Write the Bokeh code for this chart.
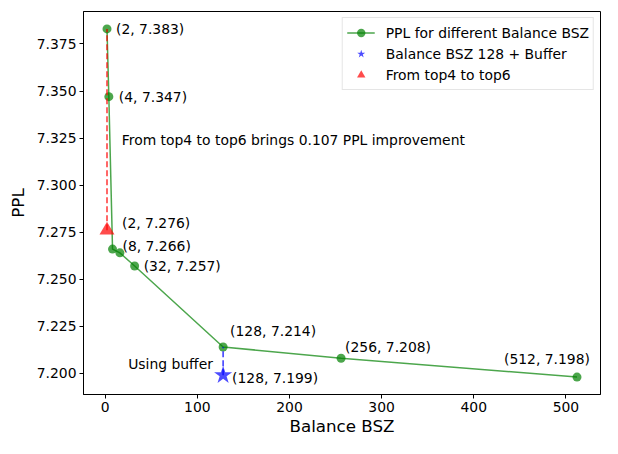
from bokeh.plotting import figure
from bokeh.models import ColumnDataSource, FixedTicker, PrintfTickFormatter, Range1d, Label
from bokeh.core.properties import value
from bokeh.embed import file_html
from bokeh.resources import INLINE

# ---- data ----
bsz = [2, 4, 8, 16, 32, 128, 256, 512]
ppl = [7.383, 7.347, 7.266, 7.264, 7.257, 7.214, 7.208, 7.198]
buffer_bsz = [128]
buffer_ppl = [7.199]
top6_bsz = [2]
top6_ppl = [7.276]
x_ticks = [0, 100, 200, 300, 400, 500]
y_ticks = [7.200, 7.225, 7.250, 7.275, 7.300, 7.325, 7.350, 7.375]
series_name = "PPL for different Balance BSZ"
buffer_name = "Balance BSZ 128 + Buffer"
top_name = "From top4 to top6"
note_text = "From top4 to top6 brings 0.107 PPL improvement"
buffer_text = "Using buffer"

FONT = "DejaVu Sans"
FS = "13.9px"

p = figure(width=602, height=438, output_backend="svg", toolbar_location=None,
           x_range=Range1d(-23.5, 537.5), y_range=Range1d(7.18875, 7.39225),
           min_border_left=83, min_border_right=2, min_border_top=11, min_border_bottom=41)
p.background_fill_color = "white"
p.border_fill_color = "white"
p.outline_line_color = "black"
p.outline_line_width = 1
p.grid.visible = False

for ax in (p.xaxis[0], p.yaxis[0]):
    ax.major_tick_out = 4
    ax.major_tick_in = 0
    ax.minor_tick_line_color = None
    ax.axis_line_color = "black"
    ax.major_tick_line_color = "black"
    ax.major_label_text_font = FONT
    ax.major_label_text_font_size = FS
    ax.major_label_text_color = "black"
    ax.axis_label_text_font = FONT
    ax.axis_label_text_font_size = "16.7px"
    ax.axis_label_text_font_style = "normal"
    ax.axis_label_text_color = "black"

p.xaxis.ticker = FixedTicker(ticks=x_ticks)
p.yaxis.ticker = FixedTicker(ticks=y_ticks)
p.yaxis.formatter = PrintfTickFormatter(format="%.3f")
p.xaxis.axis_label = "Balance BSZ"
p.yaxis.axis_label = "PPL"
p.xaxis.major_label_standoff = 3
p.xaxis.axis_label_standoff = 1
p.yaxis.major_label_standoff = 3
p.yaxis.axis_label_standoff = 6

# main series
p.line(bsz, ppl, line_color="green", line_alpha=0.7, line_width=1.5, legend_label=series_name)
p.scatter(bsz, ppl, marker="circle", size=9, fill_color="green", fill_alpha=0.7,
          line_color=None, legend_label=series_name)

# dashed connectors
p.line([top6_bsz[0], bsz[0]], [top6_ppl[0], ppl[0]], line_color="red", line_alpha=0.75,
       line_width=1.6, line_dash="6 3")
p.line([buffer_bsz[0], bsz[5]], [buffer_ppl[0], ppl[5]], line_color="blue", line_alpha=0.75,
       line_width=1.6, line_dash="6 3")

p.scatter(buffer_bsz, buffer_ppl, marker="star", size=19, fill_color="blue", fill_alpha=0.7,
          line_color=None, legend_label=buffer_name)
p.scatter(top6_bsz, top6_ppl, marker="triangle", size=15, fill_color="red", fill_alpha=0.7,
          line_color=None, legend_label=top_name)

# point labels
lab_x = [bsz[i] for i in (0, 1, 2, 4, 5, 6, 7)] + top6_bsz + buffer_bsz
lab_y = [ppl[i] for i in (0, 1, 2, 4, 5, 6, 7)] + top6_ppl + buffer_ppl
lab_t = ["(%d, %.3f)" % (a, b) for a, b in zip(lab_x, lab_y)]
dx = [9, 10, 10, 9, 7, 4, -73, 15, 9]
dy = [0, 0, -3, 0, -16, -11, -18, -7, 3]
src = ColumnDataSource(dict(x=lab_x, y=lab_y, text=lab_t, dx=dx, dy=dy))
p.text(x="x", y="y", text="text", x_offset="dx", y_offset="dy", source=src,
       text_font=value(FONT), text_font_size=value(FS), text_color="black",
       text_align="left", text_baseline="middle")

p.add_layout(Label(x=18, y=7.3242, text=note_text, text_font=FONT, text_font_size=FS,
                   text_color="black", text_align="left", text_baseline="middle"))
p.add_layout(Label(x=25, y=7.2047, text=buffer_text, text_font=FONT, text_font_size=FS,
                   text_color="black", text_align="left", text_baseline="middle"))

lg = p.legend[0]
lg.location = "top_right"
lg.label_text_font = FONT
lg.label_text_font_size = FS
lg.label_text_color = "black"
lg.border_line_color = "#cccccc"
lg.border_line_width = 1
lg.background_fill_alpha = 0.8
lg.glyph_width = 28
lg.glyph_height = 21
lg.spacing = 0
lg.padding = 4
lg.margin = 6
lg.label_standoff = 11
lg.label_height = 16

open("out.html", "w").write(file_html(p, INLINE))
